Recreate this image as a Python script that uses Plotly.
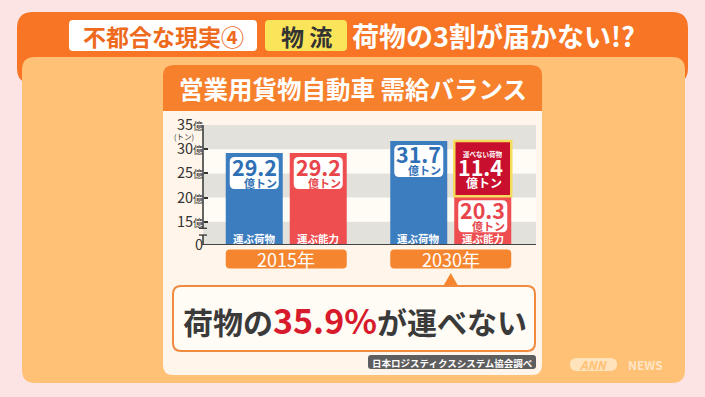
import plotly.graph_objects as go

# ---------------- data ----------------
years = ["2015年", "2030年"]
cargo = [29.2, 31.7]          # 運ぶ荷物 (億トン)
capacity = [29.2, 20.3]       # 運ぶ能力 (億トン)
shortfall_year = ["2030年"]
shortfall = [11.4]            # 運べない荷物 (億トン)
tick_vals = [15, 20, 25, 30, 35]
tick_text = ["15", "20", "25", "30", "35"]
series_names = ["運ぶ荷物", "運ぶ能力", "運べない荷物"]
unit = "億トン"
headline_pct = "35.9%"

# ---------------- layout constants ----------------
W, H = 705, 397
FONT = "Noto Sans CJK JP"
BRK = 10.2            # axis-break baseline (value shown as "0")
YTOP = 35
PLOT_X0, PLOT_X1 = 204, 533
PLOT_Y0, PLOT_Y1 = 125, 245
PPU = (PLOT_Y1 - PLOT_Y0) / (YTOP - BRK)    # px per y unit
PPX = (PLOT_X1 - PLOT_X0) / 2.0             # px per category unit
BW = 57 / PPX                               # bar width (category units)
GAP = 7 / PPX

C_BG = "#FDE4E4"
C_TOP = "#F77524"
C_PANEL = "#FFC176"
C_CARDHEAD = "#F7802C"
C_CARD = "#FFF5EA"
C_PLOT = "#FFFCF6"
C_BAND = "#E3E1DC"
C_BLUE = "#3C7DC0"
C_RED = "#EE4E50"
C_DRED = "#C8102E"
C_YEL = "#F6DC5C"
C_YEARBOX = "#F5862F"
C_DARK = "#3A3A3A"


def px(x):
    return x / W


def py(y):
    return 1 - y / H


def rr_path(x0, y0, x1, y1, rx, ry, top_only=False):
    s = 1 if y0 > y1 else -1
    if top_only:
        return (f"M{x0},{y1} L{x0},{y0 - s*ry} Q{x0},{y0} {x0 + rx},{y0} "
                f"L{x1 - rx},{y0} Q{x1},{y0} {x1},{y0 - s*ry} L{x1},{y1} Z")
    return (f"M{x0 + rx},{y0} L{x1 - rx},{y0} Q{x1},{y0} {x1},{y0 - s*ry} "
            f"L{x1},{y1 + s*ry} Q{x1},{y1} {x1 - rx},{y1} L{x0 + rx},{y1} "
            f"Q{x0},{y1} {x0},{y1 + s*ry} L{x0},{y0 - s*ry} Q{x0},{y0} {x0 + rx},{y0} Z")


shapes = []
annotations = []


def paper_rr(x0, y0, x1, y1, r, fill, line_color=None, line_width=0, top_only=False, layer="below"):
    shapes.append(dict(
        type="path", xref="paper", yref="paper", layer=layer,
        path=rr_path(px(x0), py(y0), px(x1), py(y1), r / W, r / H, top_only),
        fillcolor=fill,
        line=dict(color=line_color or fill, width=line_width),
    ))


def ann(text, x, y, size, color, xref="paper", yref="paper", xanchor="center",
        yanchor="middle", xshift=0, yshift=0, weight="bold", align="center"):
    annotations.append(dict(
        text=text, x=x, y=y, xref=xref, yref=yref, xanchor=xanchor, yanchor=yanchor,
        xshift=xshift, yshift=yshift, showarrow=False, align=align, borderpad=0,
        font=dict(family=FONT, size=size, color=color, weight=weight),
    ))


# ---------------- background panels ----------------
paper_rr(17, 12, 688, 84, 16, C_TOP)
paper_rr(22, 57, 685, 383, 13, C_PANEL)

# header labels
paper_rr(69, 20, 257, 51, 4, "white")
ann("不都合な現実④", px(163), py(36), 23, "#EE6A1C")
paper_rr(265, 20, 347, 51, 4, "#FAE45A")
ann("物 流", px(306), py(36), 23, "#333333")
ann("荷物の3割が届かない!?", px(351), py(36), 27, "white", xanchor="left")

# card
paper_rr(163, 65, 542, 375, 10, C_CARD)
paper_rr(163, 65, 542, 111, 10, C_CARDHEAD, top_only=True)
ann("営業用貨物自動車 需給バランス", px(353), py(88), 24.5, "white")

# plot area background
shapes.append(dict(type="rect", xref="paper", yref="paper", layer="below",
                   x0=px(203), x1=px(536), y0=py(PLOT_Y1), y1=py(PLOT_Y0),
                   fillcolor=C_PLOT, line=dict(width=0)))
# gray bands
for lo, hi in [(30, 35), (20, 25), (BRK, 15)]:
    shapes.append(dict(type="rect", xref="paper", yref="y", layer="below",
                       x0=px(203), x1=px(536), y0=lo, y1=hi,
                       fillcolor=C_BAND, line=dict(width=0)))

# y axis line with break
brk_hi = 15 - 6.5 / PPU
brk_lo = 15 - 13.3 / PPU
for a, b in [(brk_hi, YTOP), (BRK, brk_lo)]:
    shapes.append(dict(type="line", xref="paper", yref="y", layer="below",
                       x0=px(203), x1=px(203), y0=a, y1=b,
                       line=dict(color="#333333", width=1.5)))
for yv in [brk_hi, brk_lo]:
    shapes.append(dict(type="line", xref="paper", yref="y", layer="below",
                       x0=px(199), x1=px(207), y0=yv, y1=yv,
                       line=dict(color="#333333", width=1.3)))

# baseline
shapes.append(dict(type="line", xref="paper", yref="y", layer="above",
                   x0=px(203), x1=px(536), y0=BRK, y1=BRK,
                   line=dict(color="#444444", width=2)))

ann("(トン)", px(184), py(137), 7.5, "#333333", weight="normal")

# ---------------- bars ----------------
off_left = -BW - GAP / 2
off_right = GAP / 2

fig = go.Figure()
fig.add_trace(go.Bar(
    name=series_names[0], x=years, y=[v - BRK for v in cargo], base=BRK,
    width=BW, offset=off_left, marker=dict(color=C_BLUE, line=dict(width=0)),
    hoverinfo="skip"))
fig.add_trace(go.Bar(
    name=series_names[1], x=years, y=[v - BRK for v in capacity], base=BRK,
    width=BW, offset=off_right, marker=dict(color=C_RED, line=dict(width=0)),
    hoverinfo="skip"))
fig.add_trace(go.Bar(
    name=series_names[2], x=shortfall_year, y=shortfall, base=[capacity[1]],
    width=BW, offset=off_right, marker=dict(color=C_DRED, line=dict(color=C_YEL, width=2.5)),
    hoverinfo="skip"))

# ---------------- bar labels ----------------
rx_d = 5 / PPX
ry_d = 5 / PPU
half_box = BW / 2 - 4 / PPX


def value_box(idx, center_off, v, color):
    cx = idx + center_off
    shapes.append(dict(type="path", xref="x", yref="y", layer="above",
                       path=rr_path(cx - half_box, v - 4 / PPU, cx + half_box, v - 36 / PPU, rx_d, ry_d),
                       fillcolor="white", line=dict(width=0)))
    ann(f"{v:.1f}", cx + half_box, v, 21.5, color, xref="x", yref="y",
        xanchor="right", xshift=-1, yshift=-13)
    ann(unit, cx + half_box, v, 11, color, xref="x", yref="y",
        xanchor="right", xshift=-1, yshift=-29.5)


c_left = off_left + BW / 2
c_right = off_right + BW / 2
for i, yr in enumerate(years):
    value_box(i, c_left, cargo[i], "#2F6FB5")
    value_box(i, c_right, capacity[i], "#E8454B")
    ann(series_names[0], i + c_left, BRK, 10.5, "white", xref="x", yref="y", yshift=7)
    ann(series_names[1], i + c_right, BRK, 10.5, "white", xref="x", yref="y", yshift=7)

# shortfall label
top_s = capacity[1] + shortfall[0]
ann(series_names[2], 1 + c_right, top_s, 6.5, "white", xref="x", yref="y", yshift=-13.5)
ann(f"{shortfall[0]:.1f}", 1 + c_right + BW / 2, top_s, 21.5, "white", xref="x", yref="y",
    xanchor="right", xshift=-7, yshift=-26)
ann(unit, 1 + c_right + BW / 2, top_s, 12, "white", xref="x", yref="y",
    xanchor="right", xshift=-8, yshift=-42)

# year boxes
for i, yr in enumerate(years):
    x0 = i + off_left
    x1 = i + off_right + BW
    shapes.append(dict(type="path", xref="x", yref="paper", layer="below",
                       path=rr_path(x0, py(249.5), x1, py(268.5), 4 / PPX, 4 / H),
                       fillcolor=C_YEARBOX, line=dict(width=0)))
    ann(yr, i, py(259), 18, "white", xref="x", yref="paper", weight="normal")

# callout pointer
shapes.append(dict(type="path", xref="x", yref="paper", layer="below",
                   path=f"M{1 - 8 / PPX},{py(287)} L{1},{py(273)} L{1 + 8 / PPX},{py(287)} Z",
                   fillcolor=C_YEARBOX, line=dict(width=0)))

# callout box
paper_rr(173, 286, 535, 351, 8, "#FFFBF5", line_color="#EF8A3E", line_width=2)
ann(f"荷物の<span style='color:#D81B2C;font-size:34px'>{headline_pct}</span>が運べない",
    px(355), py(319), 30, C_DARK)

# source label
paper_rr(368, 355, 536, 369, 3, "#5E5E5E")
ann("日本ロジスティクスシステム協会調べ", px(452), py(362.5), 9.5, "white")

# ANN NEWS logo
paper_rr(570, 358, 617, 371, 6.5, "#FFE3BA")
ann("<i>ANN</i>", px(593.5), py(364.5), 12, C_PANEL)
ann("NEWS", px(645), py(364.5), 12, "#FFE6C6")

# ---------------- layout ----------------
fig.update_layout(
    width=W, height=H,
    margin=dict(l=0, r=0, t=0, b=0, pad=0, autoexpand=False),
    paper_bgcolor=C_BG,
    plot_bgcolor="rgba(0,0,0,0)",
    barmode="overlay",
    showlegend=False,
    font=dict(family=FONT, color="#333333"),
    xaxis=dict(domain=[px(PLOT_X0), px(PLOT_X1)], type="category", range=[-0.5, 1.5],
               showticklabels=False, showgrid=False, zeroline=False, showline=False,
               fixedrange=True, automargin=False),
    yaxis=dict(domain=[py(PLOT_Y1), py(PLOT_Y0)], range=[BRK, YTOP],
               tickvals=[BRK] + tick_vals,
               ticktext=["0"] + [t + "<span style='font-size:10px'>億</span>" for t in tick_text],
               ticks="inside", ticklen=4, tickwidth=1.5, tickcolor="#333333",
               tickfont=dict(family=FONT, size=14.5, color="#333333"),
               showgrid=False, zeroline=False, showline=False, fixedrange=True,
               automargin=False),
    shapes=shapes,
    annotations=annotations,
)

fig.write_html("out.html", config={"displayModeBar": False},
               post_script="document.body.style.margin='0';")
